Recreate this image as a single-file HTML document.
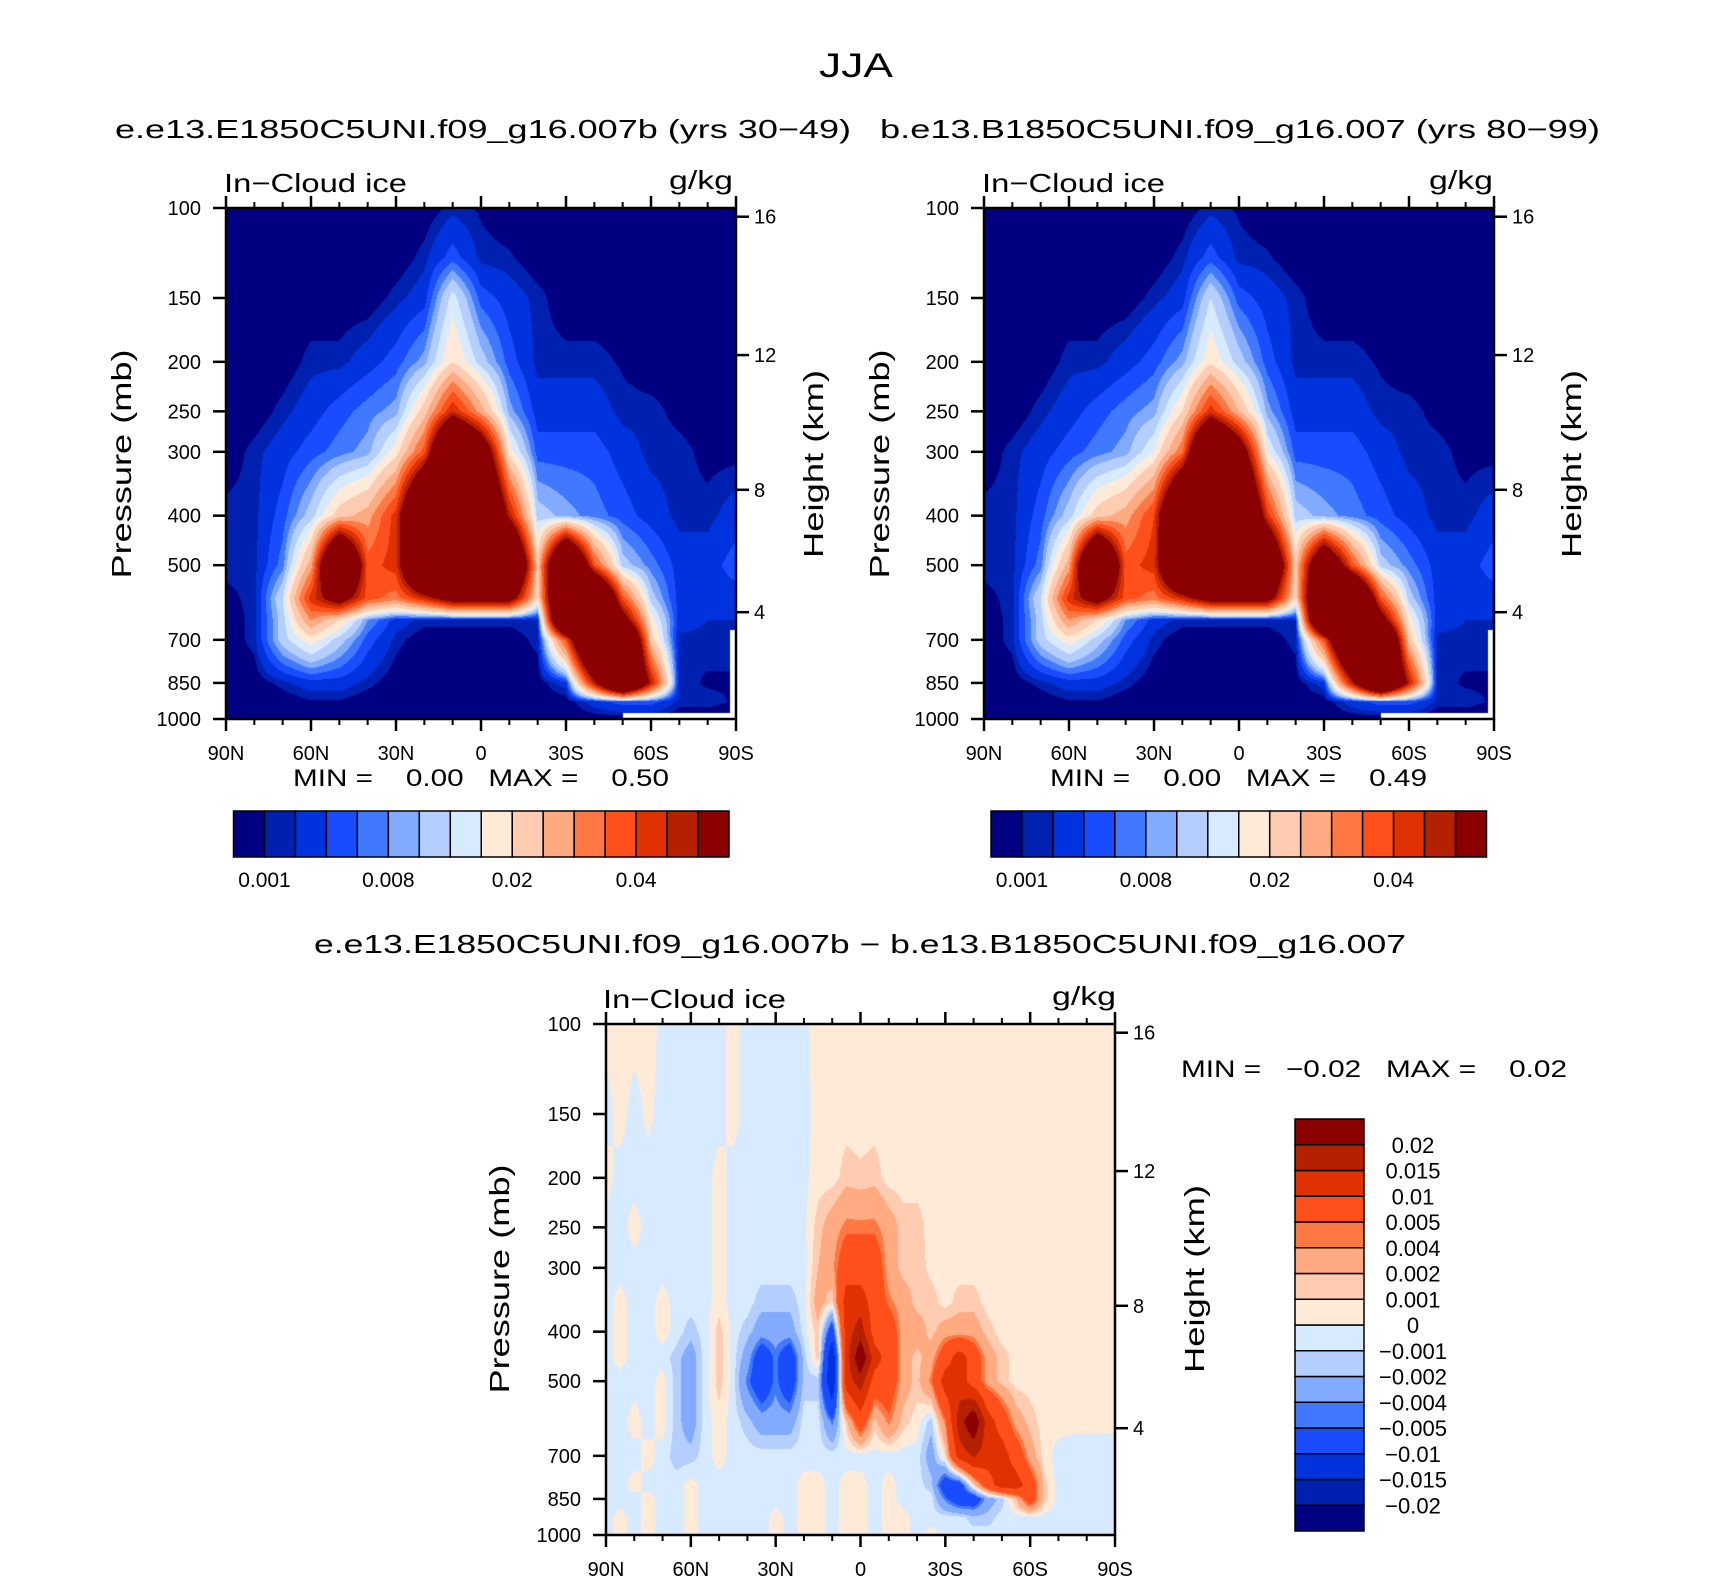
<!DOCTYPE html>
<html><head><meta charset="utf-8"><title>JJA In-Cloud ice</title>
<style>
body{margin:0;width:1710px;height:1581px;background:#fff;position:relative;overflow:hidden;font-family:"Liberation Sans",sans-serif}
canvas{position:absolute;display:block}
svg{position:absolute;left:0;top:0}
text{font-family:"Liberation Sans",sans-serif;fill:#000}
</style></head>
<body>
<canvas id="c1" width="510" height="511" style="left:226px;top:208px"></canvas>
<canvas id="c2" width="510" height="511" style="left:984px;top:208px"></canvas>
<canvas id="c3" width="509" height="511" style="left:606px;top:1024px"></canvas>
<svg id="ov" width="1710" height="1581">
<text x="856" y="77" font-size="34" text-anchor="middle" textLength="74" lengthAdjust="spacingAndGlyphs">JJA</text>
<text x="115" y="138" font-size="26" textLength="736" lengthAdjust="spacingAndGlyphs">e.e13.E1850C5UNI.f09_g16.007b (yrs 30−49)</text>
<text x="880" y="138" font-size="26" textLength="720" lengthAdjust="spacingAndGlyphs">b.e13.B1850C5UNI.f09_g16.007 (yrs 80−99)</text>
<text x="314" y="953" font-size="26" textLength="1092" lengthAdjust="spacingAndGlyphs">e.e13.E1850C5UNI.f09_g16.007b − b.e13.B1850C5UNI.f09_g16.007</text>

<text x="224" y="192" font-size="26" textLength="183" lengthAdjust="spacingAndGlyphs">In−Cloud ice</text>
<text x="669" y="189" font-size="26" textLength="64" lengthAdjust="spacingAndGlyphs">g/kg</text>
<text x="982" y="192" font-size="26" textLength="183" lengthAdjust="spacingAndGlyphs">In−Cloud ice</text>
<text x="1429" y="189" font-size="26" textLength="64" lengthAdjust="spacingAndGlyphs">g/kg</text>
<text x="603" y="1008" font-size="26" textLength="183" lengthAdjust="spacingAndGlyphs">In−Cloud ice</text>
<text x="1052" y="1005" font-size="26" textLength="64" lengthAdjust="spacingAndGlyphs">g/kg</text>

<text transform="translate(131,464) rotate(-90)" font-size="28" text-anchor="middle" textLength="229" lengthAdjust="spacingAndGlyphs">Pressure (mb)</text>
<text transform="translate(823,464) rotate(-90)" font-size="28" text-anchor="middle" textLength="188" lengthAdjust="spacingAndGlyphs">Height (km)</text>
<text transform="translate(889,464) rotate(-90)" font-size="28" text-anchor="middle" textLength="229" lengthAdjust="spacingAndGlyphs">Pressure (mb)</text>
<text transform="translate(1581,464) rotate(-90)" font-size="28" text-anchor="middle" textLength="188" lengthAdjust="spacingAndGlyphs">Height (km)</text>
<text transform="translate(509,1279) rotate(-90)" font-size="28" text-anchor="middle" textLength="229" lengthAdjust="spacingAndGlyphs">Pressure (mb)</text>
<text transform="translate(1204,1279) rotate(-90)" font-size="28" text-anchor="middle" textLength="188" lengthAdjust="spacingAndGlyphs">Height (km)</text>

<text x="293" y="786" font-size="24" textLength="376" lengthAdjust="spacingAndGlyphs" xml:space="preserve">MIN =    0.00   MAX =    0.50</text>
<text x="1050" y="786" font-size="24" textLength="377" lengthAdjust="spacingAndGlyphs" xml:space="preserve">MIN =    0.00   MAX =    0.49</text>
<text x="1181" y="1077" font-size="24" textLength="386" lengthAdjust="spacingAndGlyphs" xml:space="preserve">MIN =   −0.02   MAX =    0.02</text>
</svg>
<script>
// ---------- data ----------
const lats10 = [90,80,70,60,50,40,30,20,10,0,-10,-20,-30,-40,-50,-60,-70,-80,-90];
const levelsTop = [100,125,150,200,250,300,400,500,580,640,700,850,925,1000];
const iceCtl = [
 [0,0,0,0,0,0,0,0,.0015,.0008,0,0,0,0,0,0,0,0,0],
 [0,0,0,0,0,0,0,.0015,.005,.0015,.0012,0,0,0,0,0,0,0,0],
 [0,0,0,0,0,0,.0015,.003,.0145,.005,.003,.0015,0,0,0,0,0,0,0],
 [0,0,0,.0015,.0015,.003,.005,.009,.02,.0115,.005,.0015,.0015,.0015,.0008,0,0,0,0],
 [0,0,.0015,.003,.005,.007,.009,.0225,.045,.0275,.009,.003,.003,.003,.0015,.0015,.0005,0,0],
 [0,.0015,.003,.005,.007,.009,.018,.0375,.1,.07,.018,.005,.005,.005,.003,.0015,.0015,.0005,.0005],
 [.0015,.0015,.005,.0115,.0225,.0275,.0425,.1,.1,.1,.0475,.0115,.009,.007,.005,.003,.0015,.0015,.003],
 [.0015,.0015,.007,.0275,.1,.0375,.0425,.1,.1,.1,.1,.0225,.1,.0375,.0115,.007,.003,.003,.005],
 [.0005,.0015,.013,.0425,.06,.0375,.0325,.045,.06,.06,.06,.02,.1,.1,.0375,.0115,.003,.003,.003],
 [0,.0015,.0115,.03,.02,.008,.003,.0015,.0015,.0015,.0015,.002,.1,.1,.06,.018,.003,.002,.002],
 [0,.0015,.0115,.018,.0115,.005,.0015,0,0,0,0,.0015,.0375,.1,.1,.0225,.0015,.0015,.0015],
 [0,0,.0015,.003,.003,.0015,0,0,0,0,0,0,.003,.0475,.1,.0475,.0015,.0008,.0008],
 [0,0,0,.0008,.0008,0,0,0,0,0,0,0,0,.003,.005,.005,.0015,.0015,.0008],
 [0,0,0,0,0,0,0,0,0,0,0,0,0,0,0,0,0,0,0]
];
const iceExp = [
 [0,0,0,0,0,0,0,0,.0015,.0008,0,0,0,0,0,0,0,0,0],
 [0,0,0,0,0,0,0,.0015,.005,.0015,.0012,0,0,0,0,0,0,0,0],
 [0,0,0,0,0,0,.0015,.003,.013,.005,.003,.0015,0,0,0,0,0,0,0],
 [0,0,0,.0015,.0015,.003,.005,.009,.019,.0115,.005,.0015,.0015,.0015,.0008,0,0,0,0],
 [0,0,.0015,.003,.005,.007,.009,.02,.043,.025,.009,.003,.003,.003,.0015,.0015,.0005,0,0],
 [0,.0015,.003,.005,.007,.009,.016,.034,.1,.065,.016,.005,.005,.005,.003,.0015,.0015,.0005,.0005],
 [.0015,.0015,.005,.0115,.0225,.0275,.04,.1,.1,.1,.0425,.0115,.009,.007,.005,.003,.0015,.0015,.003],
 [.0015,.0015,.007,.0275,.1,.0375,.0425,.1,.1,.1,.09,.0225,.08,.0375,.0115,.007,.003,.003,.005],
 [.0005,.0015,.013,.0425,.06,.0375,.0325,.045,.06,.06,.06,.02,.1,.1,.0375,.0115,.003,.003,.003],
 [0,.0015,.0115,.03,.02,.008,.003,.0015,.0015,.0015,.0015,.002,.1,.1,.06,.018,.003,.002,.002],
 [0,.0015,.0115,.018,.0115,.005,.0015,0,0,0,0,.0015,.0375,.1,.1,.0225,.0015,.0015,.0015],
 [0,0,.0015,.003,.003,.0015,0,0,0,0,0,0,.003,.0475,.1,.0475,.0015,.0008,.0008],
 [0,0,0,.0008,.0008,0,0,0,0,0,0,0,0,.003,.005,.005,.0015,.0015,.0008],
 [0,0,0,0,0,0,0,0,0,0,0,0,0,0,0,0,0,0,0]
];
// missing-data (white) regions in the top panels: lat range and pressure range
const missingLatFrom = [-88, -50];
const missingLatTo = [-90, -90];
const missingPFrom = [670, 975];
const missingPTo = [1000, 1000];

const lats5 = [90,85,80,75,70,65,60,55,50,45,40,35,30,25,20,15,10,5,0,-5,-10,-15,-20,-25,-30,-35,-40,-45,-50,-55,-60,-65,-70,-75,-80,-85,-90];
const levelsDiff = [100,150,200,250,300,350,400,450,500,600,700,800,850,925,1000];
// difference in 1e-3 g/kg
const iceDiffMilli = [
 [.5,.5,.5,.5,-.3,-.5,-.5,-.5,-.5,.5,-.5,-.5,-.5,-.5,-.3,.5,.5,.5,.5,.5,.5,.5,.5,.5,.5,.5,.5,.5,.5,.5,.5,.5,.5,.5,.5,.5,.5],
 [-.5,.5,-.5,.3,-.5,-.5,-.5,-.5,-.5,.5,-.5,-.5,-.5,-.5,-.5,.5,.5,.5,.5,.5,.5,.5,.5,.5,.5,.5,.5,.5,.5,.5,.5,.5,.5,.5,.5,.5,.5],
 [.5,-.5,-.5,-.5,-.5,-.5,-.5,-.5,.5,-.5,-.5,-.5,-.5,-.3,-.3,.5,.5,1.5,1.2,1.5,.5,.5,.5,.5,.5,.5,.5,.5,.5,.5,.5,.5,.5,.5,.5,.5,.5],
 [-.5,-.5,.5,-.5,-.5,-.5,-.5,-.5,.5,-.5,-.5,-.5,-.5,-.5,-.3,1.5,3,4.5,4.5,4.5,3,1.5,1.5,.5,.5,.5,.5,.5,.5,.5,.5,.5,.5,.5,.5,.5,.5],
 [-.5,-.5,-.5,-.5,-.5,-.5,-.5,-.5,.5,-.5,-.5,-.5,-.5,-.5,-.5,2,3.5,7.5,7.5,7.5,3,1.5,1.5,.7,.5,.5,.5,.5,.5,.5,.5,.5,.5,.5,.5,.5,.5],
 [-.5,.5,-.5,-.5,.5,-.5,-.5,-.5,.5,-.5,-.5,-1.5,-1.5,-1.5,-.5,3,1,12.5,12.5,7.5,4.5,3,1.5,1.5,.5,1.5,1.5,.5,.5,.5,.5,.5,.5,.5,.5,.5,.5],
 [-.5,.5,-.5,-.5,.5,-.5,-1.5,-.5,1.5,-.5,-1.5,-3,-3,-3,-.5,1.5,-7.5,12.5,17.5,7.5,7.5,3,3,1.5,3,3,3,1.5,.5,.5,.5,.5,.5,.5,.5,.5,.5],
 [-.5,.5,-.5,-.5,-.5,-1.5,-3,-.5,1.5,-.5,-3,-7.5,-4.5,-7.5,-1.5,1.5,-15,12.5,25,12.5,7.5,3,1.5,3,7.5,12.5,7.5,3,1.5,.5,.5,.5,.5,.5,.5,.5,.5],
 [-.5,-.5,-.5,-.5,.5,-1.5,-3,-.5,1.5,-.5,-4.5,-7.5,-4.5,-7.5,-1.5,-1.5,-15,12.5,17.5,7.5,7.5,3,1.5,4.5,12.5,12.5,7.5,3,1.5,.5,.5,.5,.5,.5,.5,.5,.5],
 [-.5,-.5,.5,-.5,.5,-1.5,-3,-.5,.5,-.5,-1.5,-3,-3,-3,-.5,-.5,-4.5,1.5,7.5,1.5,4.5,1.5,.5,-1.5,4.5,17.5,25,12.5,7.5,3,1.5,.5,.5,.3,.3,.3,.3],
 [-.5,-.5,-.5,.5,-.5,-1.5,-1.5,-.5,.5,-.5,-.5,-.5,-.5,-.5,-.5,-.5,-.5,-.5,-.5,-.5,-.5,-.5,-.5,-3,1,12.5,15.5,12.5,12.5,7.5,3,.5,-.5,-.5,-.5,-.5,-.5],
 [-.5,-.5,.5,-.5,-.5,-.5,.5,-.5,-.5,-.5,-.5,-.5,-.5,-.5,.5,.5,-.5,.5,.5,-.5,.5,-.5,-.5,-1.5,-7.5,-7.5,1,7.5,12.5,12.5,7.5,1.5,-.5,-.5,-.5,-.5,-.5],
 [-.5,-.5,-.5,.5,-.5,-.5,.5,-.5,-.5,-.5,-.5,-.5,-.5,-.5,.5,.5,-.5,.5,.5,-.5,.5,-.5,-.5,-.5,-4.5,-7.5,-7.5,-3,-1.5,2,7.5,1.5,-.5,-.5,-.5,-.5,-.5],
 [-.5,.5,-.5,.5,-.5,-.5,.5,-.5,-.5,-.5,-.5,-.5,.5,-.5,.5,.5,-.5,.5,.5,-.5,.5,.5,-.5,-.5,-.5,-.5,-1.5,-1.5,-.5,-.5,-.5,-.5,-.5,-.5,-.5,-.5,-.5],
 [-.5,.5,-.5,.5,-.5,-.5,.5,-.5,-.5,-.5,-.5,-.5,.5,-.5,.5,.5,-.5,.5,.5,-.5,.5,.5,-.5,.5,-.5,-.5,-.5,-.5,-.5,-.5,-.5,-.5,-.5,-.5,-.5,-.5,-.5]
];
const boundsTop = [0.001,0.002,0.004,0.006,0.008,0.01,0.013,0.016,0.02,0.025,0.03,0.035,0.04,0.045,0.05];
const boundsDiffMilli = [-20,-15,-10,-5,-4,-2,-1,0,1,2,4,5,10,15,20];
const topBarLabels = ["0.001","0.008","0.02","0.04"];
const topBarLabelIdx = [0,4,8,12];
const diffBarLabels = ["−0.02","−0.015","−0.01","−0.005","−0.004","−0.002","−0.001","0","0.001","0.002","0.004","0.005","0.01","0.015","0.02"];
const pressureTicks = [100,150,200,250,300,400,500,700,850,1000];
const heightTicks = [16,12,8,4];
const heightTickPressures = [104,194,356,618];
const latMajor = [90,60,30,0,-30,-60,-90];
const latMajorLabels = ["90N","60N","30N","0","30S","60S","90S"];
const latMinor = [80,70,50,40,20,10,-10,-20,-40,-50,-70,-80];
const palette = ["#000080","#0020b0","#0033dd","#1a4cff","#4078ff","#82aaff","#b4ceff","#d8eaff","#ffead8","#ffccb2","#ffaa80","#ff7844","#ff4f1a","#e03200","#b42000","#8b0000"];

// ---------- geometry ----------
const P1 = {x:226,y:208,w:510,h:511,id:'left'};
const P2 = {x:984,y:208,w:510,h:511,id:'right'};
const P3 = {x:606,y:1024,w:509,h:511,id:'diff'};
const NS = 'http://www.w3.org/2000/svg';
const ov = document.getElementById('ov');
function yOf(p,P){return P.y + P.h*Math.log10(p/100);}
function xOf(lat,P){return P.x + P.w*(90-lat)/180;}
function colorIndex(v,b){let i=0;while(i<b.length && v>=b[i])i++;return i;}

function drawField(cid,P,lats,levels,vals,bounds,withMissing){
  const cv=document.getElementById(cid),ctx=cv.getContext('2d');
  const img=ctx.createImageData(P.w,P.h);
  const rgb=palette.map(c=>[parseInt(c.slice(1,3),16),parseInt(c.slice(3,5),16),parseInt(c.slice(5,7),16)]);
  const logL=levels.map(p=>Math.log10(p));
  const dl=(lats[0]-lats[lats.length-1])/(lats.length-1);
  for(let py=0;py<P.h;py++){
    const lp=2+(py+0.5)/P.h;
    const pr=Math.pow(10,lp);
    let k=0;while(k<logL.length-2 && lp>logL[k+1])k++;
    const fy=Math.min(1,Math.max(0,(lp-logL[k])/(logL[k+1]-logL[k])));
    for(let px=0;px<P.w;px++){
      const lat=90-180*(px+0.5)/P.w;
      let miss=false;
      if(withMissing){
        for(let m=0;m<missingLatFrom.length;m++){
          if(lat<=missingLatFrom[m]&&lat>=missingLatTo[m]&&pr>=missingPFrom[m]&&pr<=missingPTo[m])miss=true;
        }
      }
      let col;
      if(miss){col=[255,255,255];}
      else{
        const ci=(lats[0]-lat)/dl;const j=Math.min(lats.length-2,Math.floor(ci));const fx=ci-j;
        const a=vals[k][j],b=vals[k][j+1],c=vals[k+1][j],d=vals[k+1][j+1];
        const v=(a*(1-fx)+b*fx)*(1-fy)+(c*(1-fx)+d*fx)*fy;
        col=rgb[colorIndex(v,bounds)];
      }
      const o=(py*P.w+px)*4;img.data[o]=col[0];img.data[o+1]=col[1];img.data[o+2]=col[2];img.data[o+3]=255;
    }
  }
  ctx.putImageData(img,0,0);
}
drawField('c1',P1,lats10,levelsTop,iceCtl,boundsTop,true);
drawField('c2',P2,lats10,levelsTop,iceExp,boundsTop,true);
drawField('c3',P3,lats5,levelsDiff,iceDiffMilli,boundsDiffMilli,false);

function line(x1,y1,x2,y2,w){const l=document.createElementNS(NS,'line');l.setAttribute('x1',x1);l.setAttribute('y1',y1);l.setAttribute('x2',x2);l.setAttribute('y2',y2);l.setAttribute('stroke','#000');l.setAttribute('stroke-width',w);ov.appendChild(l);return l;}
function txt(x,y,s,size,anchor){const t=document.createElementNS(NS,'text');t.setAttribute('x',x);t.setAttribute('y',y);t.setAttribute('font-size',size);t.setAttribute('text-anchor',anchor);t.textContent=s;ov.appendChild(t);return t;}

function drawAxes(P){
  const fr=document.createElementNS(NS,'rect');
  fr.setAttribute('x',P.x);fr.setAttribute('y',P.y);fr.setAttribute('width',P.w);fr.setAttribute('height',P.h);
  fr.setAttribute('fill','none');fr.setAttribute('stroke','#000');fr.setAttribute('stroke-width','2.5');
  
  
  ov.appendChild(fr);
  pressureTicks.forEach(p=>{
    const y=yOf(p,P);
    const tk=line(P.x-13,y,P.x,y,2.5);
    
    
    const t=txt(P.x-25,y+7,String(p),20,'end');
    
    
  });
  heightTicks.forEach((h,i)=>{
    const y=yOf(heightTickPressures[i],P);
    const tk=line(P.x+P.w,y,P.x+P.w+13,y,2.5);
    
    
    const t=txt(P.x+P.w+18,y+7,String(h),20,'start');
    
    
  });
  latMajor.forEach((lat,i)=>{
    const x=xOf(lat,P);
    const b=line(x,P.y+P.h,x,P.y+P.h+12,2.5);
    
    
    const t2=line(x,P.y-12,x,P.y,2.5);
    
    
    const t=txt(x,P.y+P.h+41,latMajorLabels[i],20,'middle');
    
    
  });
  latMinor.forEach(lat=>{
    const x=xOf(lat,P);
    const b=line(x,P.y+P.h,x,P.y+P.h+6,2);
    
    
    const t2=line(x,P.y-6,x,P.y,2);
    
    
  });
}
drawAxes(P1);drawAxes(P2);drawAxes(P3);

function hBar(x0,name){
  const y=811,h=46,w=495.5/16;
  palette.forEach((c,i)=>{
    const r=document.createElementNS(NS,'rect');
    r.setAttribute('x',x0+i*w);r.setAttribute('y',y);r.setAttribute('width',w);r.setAttribute('height',h);
    r.setAttribute('fill',c);r.setAttribute('stroke','#000');r.setAttribute('stroke-width','1.5');
    
    
    ov.appendChild(r);
  });
  topBarLabels.forEach((s,i)=>{
    const t=txt(x0+(topBarLabelIdx[i]+1)*w,887,s,21,'middle');
    
    
  });
}
hBar(233.5,'left');hBar(991,'right');

(function vBar(){
  const x=1295,y0=1119,w=69,h=412/16;
  palette.forEach((c,i)=>{
    const r=document.createElementNS(NS,'rect');
    r.setAttribute('x',x);r.setAttribute('y',y0+(15-i)*h);r.setAttribute('width',w);r.setAttribute('height',h);
    r.setAttribute('fill',c);r.setAttribute('stroke','#000');r.setAttribute('stroke-width','1.5');
    
    
    ov.appendChild(r);
  });
  diffBarLabels.forEach((s,i)=>{
    const t=txt(1413,y0+(15-i)*h+8,s,22,'middle');
    
    
  });
})();
</script>
</body></html>
